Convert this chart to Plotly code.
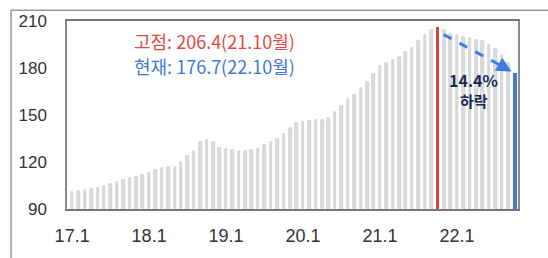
import plotly.graph_objects as go

# ---- data ----
years = [17, 18, 19, 20, 21, 22]
month_labels = [f"{y}.{m}" for y in years for m in range(1, 13)][:70]  # 17.1 .. 22.10
values = [
    101, 101.5, 102, 102.5, 103.5, 105, 106, 107, 108.5, 109.5, 110.5, 111.5,   # 2017
    113, 115, 116, 116.5, 117, 120, 124, 127, 133, 134, 133, 129,               # 2018
    128, 127.5, 127, 127, 127.5, 128.5, 131, 133, 135, 138, 142, 145,           # 2019
    145.5, 146, 146.5, 147, 148, 152, 156, 160, 163, 167, 171, 176,             # 2020
    181, 183, 185, 187, 190, 193, 197, 201, 204, 206.4, 204, 202,               # 2021
    201, 200, 199, 198, 197, 195, 192, 188, 183, 176.7,                         # 2022
]
tick_labels = ["17.1", "18.1", "19.1", "20.1", "21.1", "22.1"]
y_ticks = [90, 120, 150, 180, 210]
peak_label = "고점: 206.4(21.10월)"
now_label = "현재: 176.7(22.10월)"
drop_pct = "14.4%"
drop_word = "하락"

# ---- derived ----
x_idx = list(range(len(values)))
peak_i = values.index(max(values))
last_i = len(values) - 1
tick_pos = [month_labels.index(t) for t in tick_labels]

gray_x = [i for i in x_idx if i not in (peak_i, last_i)]
gray_y = [values[i] for i in gray_x]

fig = go.Figure()
fig.add_trace(go.Bar(x=gray_x, y=gray_y, width=0.4,
                     marker=dict(color="#dddddd", line=dict(color="#c3c3c3", width=0.6)),
                     showlegend=False))
fig.add_trace(go.Bar(x=[peak_i], y=[values[peak_i]], width=0.5,
                     marker=dict(color="#d8413c", line=dict(width=0)), showlegend=False))
fig.add_trace(go.Bar(x=[last_i], y=[values[last_i]], width=0.6,
                     marker=dict(color="#4677d2", line=dict(width=0)), showlegend=False))

# dashed arrow from peak to current
x0, y0 = peak_i + 0.9, values[peak_i] - 5
x1, y1 = last_i - 0.5, values[last_i] + 1.0
fig.add_trace(go.Scatter(x=[x0, x1 - 0.8], y=[y0, y1 + 1.9], mode="lines",
                         line=dict(color="#3d7fe0", width=3, dash="dash"),
                         showlegend=False, hoverinfo="skip"))
fig.add_annotation(x=x1, y=y1, ax=x1 - 2.0, ay=y1 + 4.7, xref="x", yref="y",
                   axref="x", ayref="y", text="", showarrow=True,
                   arrowhead=2, arrowsize=1, arrowwidth=3, arrowcolor="#3d7fe0")

drop_font = dict(family="Noto Sans CJK KR", size=16, color="#1b2a55", weight="bold")
fig.add_annotation(x=62.6, y=172.5, xref="x", yref="y", text=drop_pct,
                   showarrow=False, font=drop_font)
fig.add_annotation(x=62.6, y=159.5, xref="x", yref="y", text=drop_word,
                   showarrow=False, font=dict(drop_font, size=15))

fig.add_annotation(x=9.4, y=197.5, xref="x", yref="y", text=peak_label, showarrow=False,
                   xanchor="left", font=dict(family="Noto Sans CJK KR", size=18, color="#e5483f"))
fig.add_annotation(x=9.4, y=181, xref="x", yref="y", text=now_label, showarrow=False,
                   xanchor="left", font=dict(family="Noto Sans CJK KR", size=18, color="#3f78d6"))

# outer frame
fig.add_shape(type="rect", xref="paper", yref="paper",
              x0=-0.124, x1=1.2, y0=-0.5, y1=1.057,
              line=dict(color="#9a9a9a", width=1.5), fillcolor="rgba(0,0,0,0)")

fig.update_layout(
    width=548, height=258,
    margin=dict(l=67, r=30, t=20, b=28),
    paper_bgcolor="white", plot_bgcolor="white",
    bargap=0, barmode="overlay",
    font=dict(family="Liberation Sans", size=18, color="#333333"),
)
fig.update_xaxes(range=[-0.8, last_i + 0.5], tickvals=tick_pos, ticktext=tick_labels,
                 showgrid=False, zeroline=False, showline=True, linecolor="#777777",
                 linewidth=2, mirror=True, ticks="", tickfont=dict(size=18, color="#333333"),
                 ticklabelstandoff=9)
fig.update_yaxes(range=[90, 210], tickvals=y_ticks, showgrid=False, zeroline=False,
                 showline=True, linecolor="#8a8a8a", linewidth=1.5, mirror=True, ticks="",
                 tickfont=dict(size=17, color="#333333"), ticklabelstandoff=15)

fig.write_html("out.html", config={"displayModeBar": False},
               post_script="document.body.style.margin='0';document.body.style.overflow='hidden';")
